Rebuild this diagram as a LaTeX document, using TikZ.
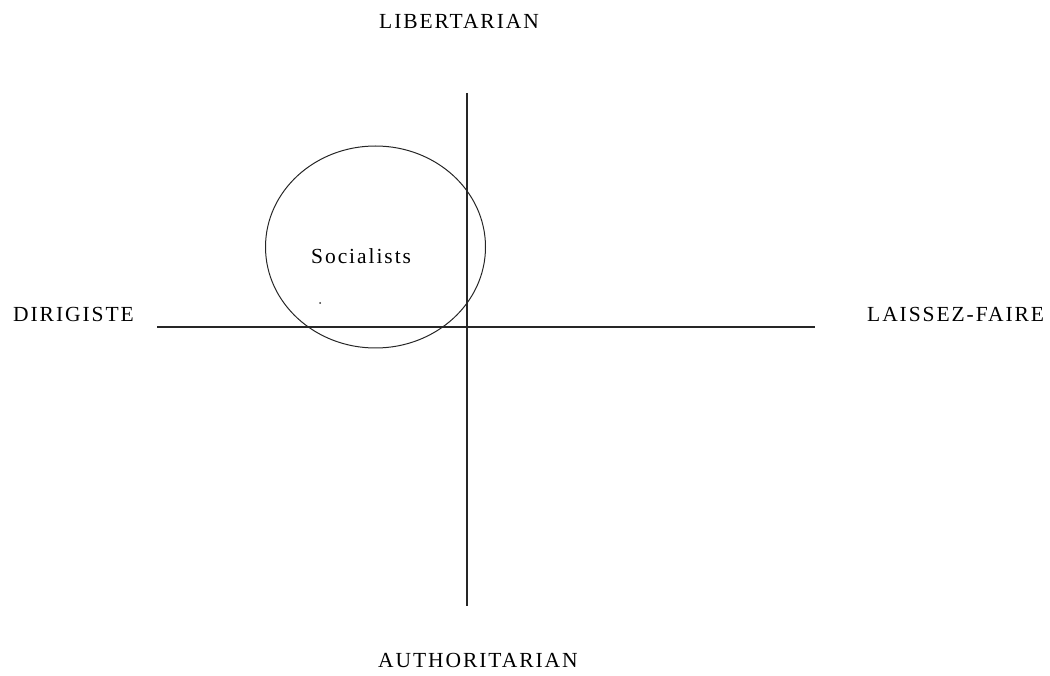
\documentclass[tikz,border=0pt]{standalone}
\usepackage{fontspec}
\newfontfamily\chartfont[LetterSpace=9]{Liberation Serif}
\usetikzlibrary{shapes.geometric}
\begin{document}
\begin{tikzpicture}[x=1pt, y=-1pt]
% Political compass sketch
\providecommand{\chartLineColor}{black!85}
\providecommand{\chartLineWidth}{1.2pt}
\providecommand{\chartLabelFont}{\chartfont\fontsize{21.5}{25}\selectfont}
\tikzset{
  axislabel/.style={anchor=west, inner sep=0pt, font=\chartLabelFont, text=black},
  axisline/.style={draw=\chartLineColor, line width=\chartLineWidth},
  bloc/.style={ellipse, draw=\chartLineColor, line width=1pt, minimum width=220, minimum height=202, inner sep=0pt}
}
\useasboundingbox (0,0) rectangle (1050,676);
\begin{scope}[line cap=butt]
  % Axis end points
  \coordinate (northend) at (467,93);
  \coordinate (southend) at (467,606);
  \coordinate (westend) at (157,327);
  \coordinate (eastend) at (815,327);
  % Axis labels
  \node[axislabel] (libertarian) at (379,21) {LIBERTARIAN};
  \node[axislabel] (authoritarian) at (378,660) {AUTHORITARIAN};
  \node[axislabel] (dirigiste) at (13,314.5) {DIRIGISTE};
  \node[axislabel] (laissezfaire) at (867,314.5) {LAISSEZ-FAIRE};
  % Axes
  \draw[axisline] (northend) -- (southend);
  \draw[axisline] (westend) -- (eastend);
  % Socialist bloc
  \node[bloc] (socbloc) at (375.5,247) {};
  \node[axislabel] (socialists) at (311,256.5) {Socialists};
  \fill[black!80] (320,303) circle (1);
\end{scope}
\end{tikzpicture}
\end{document}
